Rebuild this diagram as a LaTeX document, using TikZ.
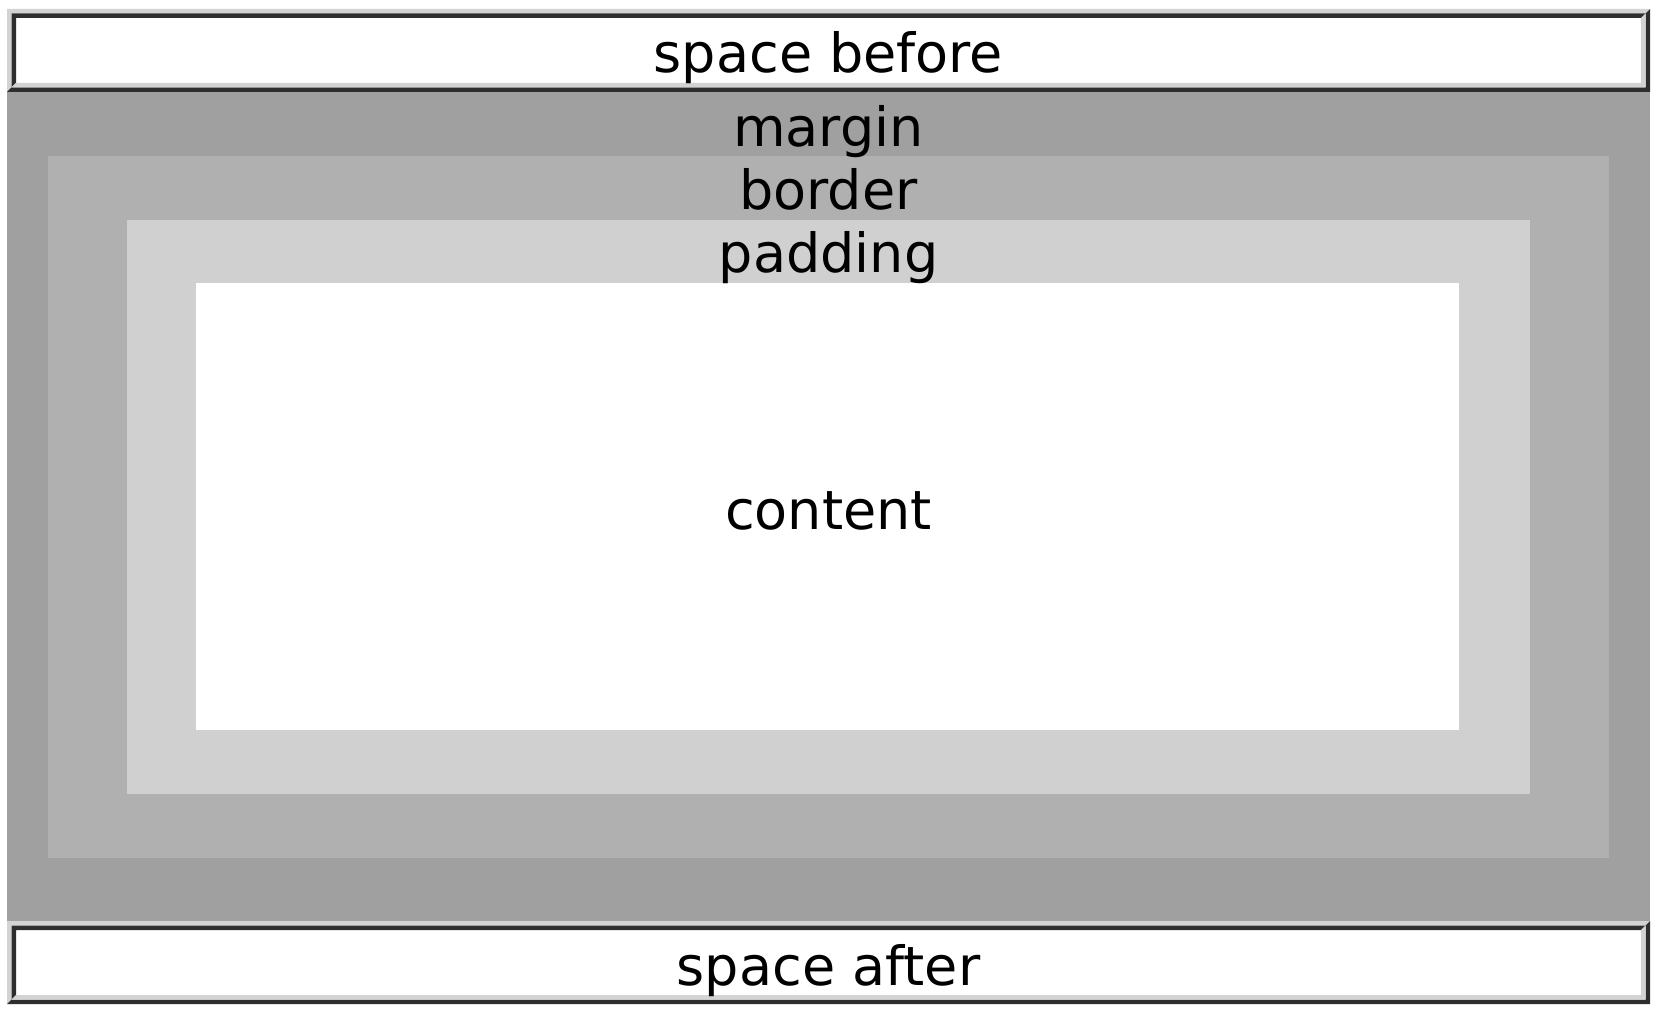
\documentclass[tikz,border=0pt]{standalone}
\usepackage{fontspec}
\setmainfont{DejaVu Sans}
\definecolor{marginc}{HTML}{A0A0A0}
\definecolor{borderc}{HTML}{B0B0B0}
\definecolor{paddingc}{HTML}{D0D0D0}
\definecolor{ridgelight}{HTML}{D3D3D3}
\definecolor{ridgedark}{HTML}{2E2E2E}
\tikzset{
  lbl/.style={anchor=base, inner sep=0pt, font=\fontsize{54}{64}\selectfont, text=black},
}
% ridge box: outer x0 y0 x1 y1
\newcommand\myridge[4]{%
  \pgfmathsetmacro\ax{#1}\pgfmathsetmacro\ay{#2}\pgfmathsetmacro\bx{#3}\pgfmathsetmacro\by{#4}%
  \pgfmathsetmacro\mxa{#1+4.5}\pgfmathsetmacro\mya{#2+4.5}\pgfmathsetmacro\mxb{#3-4.5}\pgfmathsetmacro\myb{#4-4.5}%
  \pgfmathsetmacro\ixa{#1+9}\pgfmathsetmacro\iya{#2+9}\pgfmathsetmacro\ixb{#3-9}\pgfmathsetmacro\iyb{#4-9}%
  \fill[white] (\ax,\ay) rectangle (\bx,\by);
  \fill[ridgelight] (\ax,\by) -- (\ax,\ay) -- (\bx,\ay) -- (\mxb,\mya) -- (\mxa,\mya) -- (\mxa,\myb) -- cycle;
  \fill[ridgedark] (\bx,\ay) -- (\bx,\by) -- (\ax,\by) -- (\mxa,\myb) -- (\mxb,\myb) -- (\mxb,\mya) -- cycle;
  \fill[ridgedark] (\mxa,\myb) -- (\mxa,\mya) -- (\mxb,\mya) -- (\ixb,\iya) -- (\ixa,\iya) -- (\ixa,\iyb) -- cycle;
  \fill[ridgelight] (\mxb,\mya) -- (\mxb,\myb) -- (\mxa,\myb) -- (\ixa,\iyb) -- (\ixb,\iyb) -- (\ixb,\iya) -- cycle;
}
\begin{document}
\begin{tikzpicture}[x=1pt,y=-1pt]
\useasboundingbox (0,0) rectangle (1660,1016);
% layers
\fill[marginc] (7,92) rectangle (1650,921);
\fill[borderc] (48,156) rectangle (1609,858);
\fill[paddingc] (127,220) rectangle (1530,794);
\fill[white] (196,283) rectangle (1459,730);
% ridge boxes
\myridge{7}{9}{1650}{92}
\myridge{7}{921}{1650}{1004}
% labels
\node[lbl] (before) at (828.5,73) {space before};
\node[lbl] (margin) at (828.5,147) {margin};
\node[lbl] (border) at (828.5,210) {border};
\node[lbl] (padding) at (828.5,273) {padding};
\node[lbl] (content) at (828.5,529) {content};
\node[lbl] (after) at (828.5,985) {space after};
\end{tikzpicture}
\end{document}
